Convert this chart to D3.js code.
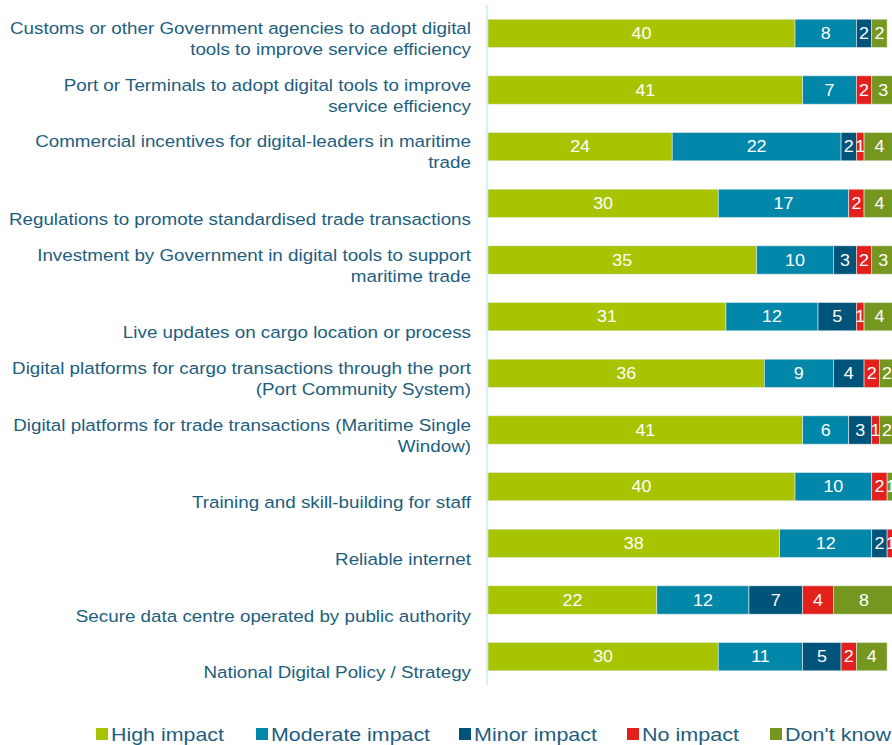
<!DOCTYPE html>
<html>
<head>
<meta charset="utf-8">
<script src="https://cdn.jsdelivr.net/npm/d3@7"></script>
<style>
  body { margin: 0; background: #fff; }
  svg { display: block; font-family: "Liberation Sans", Arial, sans-serif; }
</style>
</head>
<body>
<div id="chart"></div>
<script>
// category labels, top to bottom ("\n" = line break as in the original)
const categories = [
  "Customs or other Government agencies to adopt digital\ntools to improve service efficiency",
  "Port or Terminals to adopt digital tools to improve\nservice efficiency",
  "Commercial incentives for digital-leaders in maritime\ntrade",
  "Regulations to promote standardised trade transactions",
  "Investment by Government in digital tools to support\nmaritime trade",
  "Live updates on cargo location or process",
  "Digital platforms for cargo transactions through the port\n(Port Community System)",
  "Digital platforms for trade transactions (Maritime Single\nWindow)",
  "Training and skill-building for staff",
  "Reliable internet",
  "Secure data centre operated by public authority",
  "National Digital Policy / Strategy"
];

const seriesNames = ["High impact", "Moderate impact", "Minor impact", "No impact", "Don't know"];
const seriesColors = ["#a8c300", "#0087aa", "#005479", "#e4201c", "#76971f"];

const highImpact     = [40, 41, 24, 30, 35, 31, 36, 41, 40, 38, 22, 30];
const moderateImpact = [ 8,  7, 22, 17, 10, 12,  9,  6, 10, 12, 12, 11];
const minorImpact    = [ 2,  0,  2,  0,  3,  5,  4,  3,  0,  2,  7,  5];
const noImpact       = [ 0,  2,  1,  2,  2,  1,  2,  1,  2,  1,  4,  2];
const dontKnow       = [ 2,  3,  4,  4,  3,  4,  2,  2,  1,  0,  8,  4];

const width = 892, height = 745;
const labelColor = "#1d5e7e";
const stretch = 1.12; // the original text is a bit wider than plain Arial

// build a table the stack layout can use
const table = categories.map((c, i) => ({
  cat: c,
  "High impact": highImpact[i],
  "Moderate impact": moderateImpact[i],
  "Minor impact": minorImpact[i],
  "No impact": noImpact[i],
  "Don't know": dontKnow[i]
}));

const stacked = d3.stack().keys(seriesNames)(table);

const x = d3.scaleLinear().domain([0, 40]).range([488, 795]);
const y = d3.scaleBand().domain(categories).range([5, 685])
  .paddingInner(0.5).paddingOuter(0.25);
const color = d3.scaleOrdinal().domain(seriesNames).range(seriesColors);

const svg = d3.select("#chart").append("svg")
  .attr("width", width)
  .attr("height", height);

// bars
const groups = svg.append("g").selectAll("g")
  .data(stacked)
  .join("g")
  .attr("fill", (d) => color(d.key));

groups.selectAll("rect")
  .data((d) => d.filter((s) => s[1] - s[0] > 0))
  .join("rect")
  .attr("x", (d) => x(d[0]))
  .attr("y", (d) => y(d.data.cat))
  .attr("width", (d) => x(d[1]) - x(d[0]))
  .attr("height", y.bandwidth())
  .attr("stroke", "#e4ecec")
  .attr("stroke-width", 0.6);

// value labels inside the segments
groups.selectAll("text")
  .data((d) => d.filter((s) => s[1] - s[0] > 0))
  .join("text")
  .attr("transform", (d) => `translate(${(x(d[0]) + x(d[1])) / 2},${y(d.data.cat) + y.bandwidth() / 2}) scale(${stretch},1)`)
  .attr("dy", "0.36em")
  .attr("text-anchor", "middle")
  .attr("fill", "#fff")
  .attr("font-size", 16)
  .text((d) => d[1] - d[0]);

// vertical axis line
svg.append("line")
  .attr("x1", 487).attr("x2", 487)
  .attr("y1", 5).attr("y2", 685)
  .attr("stroke", "#cbe8f6")
  .attr("stroke-width", 1.5);

// category labels, bottom line sits just below the bar
const lineH = 21;
svg.append("g")
  .attr("transform", `translate(471,0) scale(${stretch},1)`)
  .selectAll("text")
  .data(categories)
  .join("text")
  .attr("text-anchor", "end")
  .attr("fill", labelColor)
  .attr("font-size", 16.8)
  .each(function(d) {
    const lines = d.split("\n");
    const base = y(d) + 36 - (lines.length - 1) * lineH;
    d3.select(this).selectAll("tspan")
      .data(lines)
      .join("tspan")
      .attr("x", 0)
      .attr("y", (l, i) => base + i * lineH)
      .text((l) => l);
  });

// legend
const legendX = [96, 256, 459, 627, 770];
const legendW = [113, 159, 123, 97, 106];
const legend = svg.append("g").selectAll("g")
  .data(seriesNames)
  .join("g")
  .attr("transform", (d, i) => `translate(${legendX[i]},0)`);

legend.append("rect")
  .attr("x", 0).attr("y", 728)
  .attr("width", 12).attr("height", 12)
  .attr("fill", (d) => color(d));

legend.append("text")
  .attr("x", 15).attr("y", 741)
  .attr("fill", labelColor)
  .attr("font-size", 19)
  .attr("textLength", (d, i) => legendW[i])
  .attr("lengthAdjust", "spacingAndGlyphs")
  .text((d) => d);
</script>
</body>
</html>
